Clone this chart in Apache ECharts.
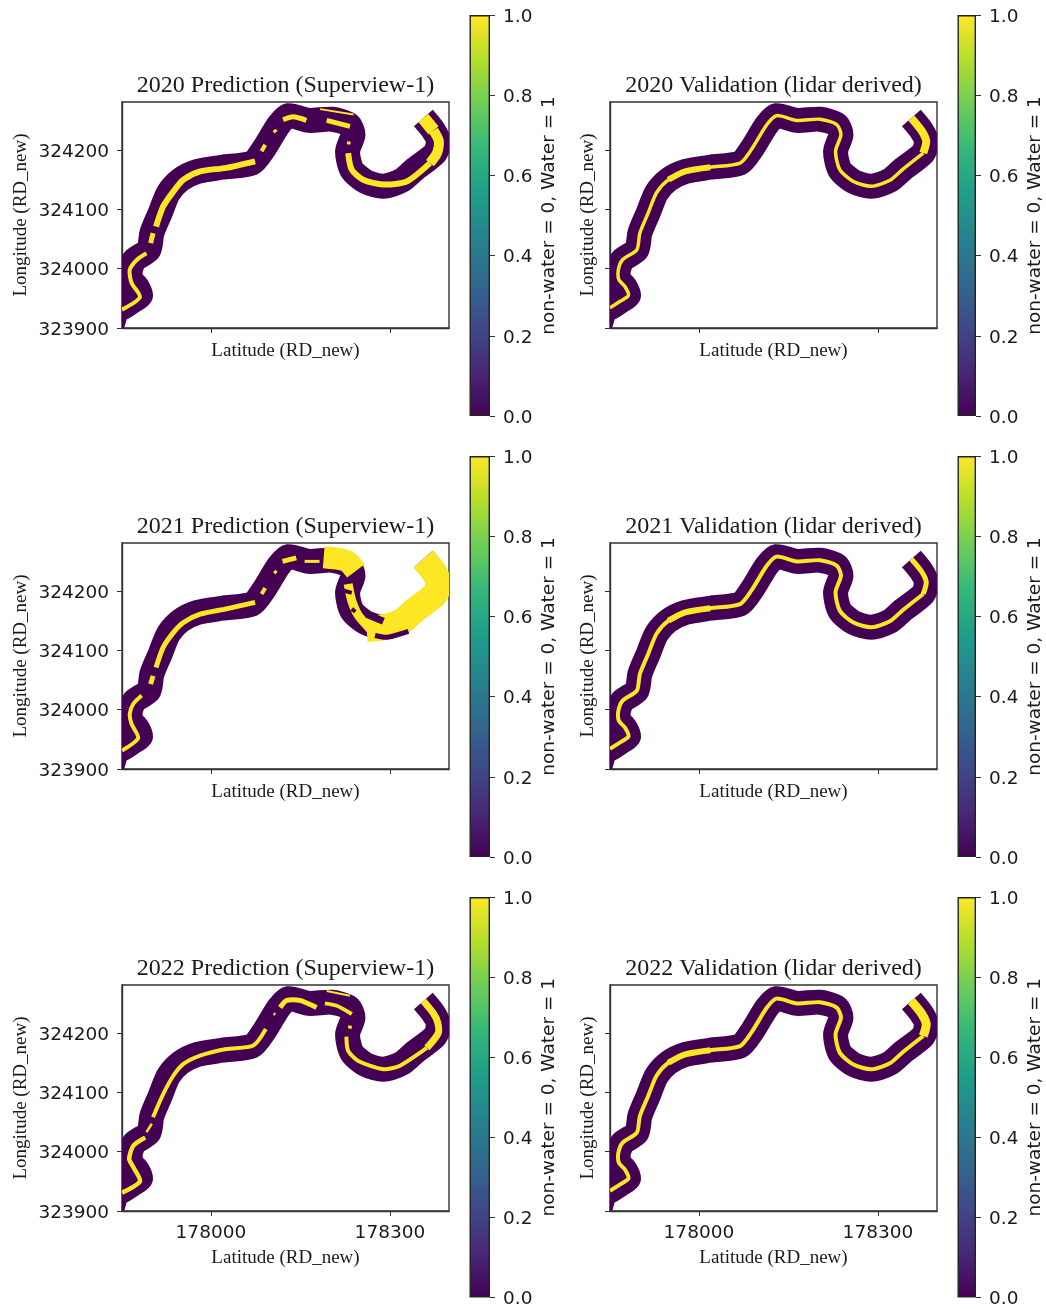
<!DOCTYPE html>
<html><head><meta charset="utf-8">
<style>html,body{margin:0;padding:0;background:#fff}#c{width:1046px;height:1309px}</style>
<script src="https://cdn.jsdelivr.net/npm/echarts@6/dist/echarts.min.js"></script>
</head><body><div id="c"></div>
<script>
// ---------- data (RD_new coordinates) ----------
const latTicks = [178000, 178300];
const lonTicks = [323900, 324000, 324100, 324200];
const barTicks = [0, 0.2, 0.4, 0.6, 0.8, 1];
const titles = ['2020 Prediction (Superview-1)', '2020 Validation (lidar derived)',
  '2021 Prediction (Superview-1)', '2021 Validation (lidar derived)',
  '2022 Prediction (Superview-1)', '2022 Validation (lidar derived)'];
const viridis = ['#440154','#482878','#3e4989','#31688e','#26828e','#1f9e89','#35b779','#6ece58','#b5de2b','#fde725'];

const riverBuffer = [[177833,323900],[177843,323931],[177851,323934],[177868,323945],[177882,323955],[177876,323970],[177866,323981],[177865,323998],[177872,324015],[177896,324032],[177901,324060],[177915,324094],[177929,324128],[177949,324150],[177977,324164],[178019,324171],[178069,324178],[178088,324201],[178114,324243],[178130,324258],[178164,324250],[178203,324252],[178231,324243],[178238,324226],[178229,324198],[178236,324167],[178259,324147],[178289,324139],[178320,324149],[178342,324168],[178376,324195],[178381,324215],[178373,324233],[178356,324254]];
const bufferFill = [[177845,323945],[177850,323985]];

const valMain = [[177851,323934],[177868,323945],[177882,323955],[177876,323970],[177866,323981],[177865,323998],[177872,324015],[177896,324032],[177901,324060],[177915,324094],[177929,324128],[177949,324150],[177977,324164],[178019,324171],[178069,324178],[178088,324201],[178114,324243],[178130,324258],[178164,324250],[178203,324252],[178231,324243],[178238,324226],[178229,324198],[178236,324167],[178259,324147],[178289,324139],[178320,324149],[178342,324168],[178376,324195]];
const valWide = [[177949,324150],[177977,324164],[178019,324171]];
const valEnd = [[178376,324195],[178381,324215],[178373,324233],[178356,324254]];

const p20a = [[177851,323931],[177881,323952],[177867,323976],[177864,323998],[177876,324015],[177892,324026]];
const p20b = [[177899,324043],[177903,324060]];
const p20c = [[177908,324071],[177920,324105],[177937,324130],[177954,324150],[177982,324164],[178026,324170],[178074,324181]];
const p20d = [[178085,324198],[178091,324209]];
const p20e = [[178105,324230],[178110,324234]];
const p20f = [[178121,324251],[178138,324256],[178160,324250]];
const p20g = [[178194,324250],[178233,324240]];
const p20h = [[178183,324269],[178239,324260]];
const p20i = [[178228,324212],[178234,324212]];
const p20j = [[178230,324195],[178236,324167],[178255,324150],[178289,324142],[178328,324147],[178367,324178]];
const p20k = [[178367,324178],[178379,324195],[178382,324215],[178373,324233]];
const p20l = [[178373,324233],[178356,324254]];

const p21a = [[177851,323931],[177878,323952],[177867,323976],[177864,323993],[177870,324010],[177884,324024]];
const p21b = [[177899,324043],[177903,324057]];
const p21c = [[177908,324071],[177920,324105],[177937,324130],[177954,324147],[177982,324161],[178026,324170],[178074,324181]];
const p21d = [[178085,324195],[178091,324205]];
const p21e = [[178106,324230],[178110,324234]];
const p21f = [[178120,324250],[178143,324256]];
const p21g = [[178157,324250],[178182,324250]];
const p21h = [[178189,324257],[178227,324251],[178243,324234]];
const p21i = [[178230,324212],[178236,324184],[178247,324159],[178267,324136]];
const p21j = [[178261,324136],[178289,324139],[178320,324149],[178342,324168],[178376,324195],[178381,324215],[178373,324233],[178356,324254]];
const p21Dark1 = [[178261,324161],[178289,324149]];
const p21Dark2 = [[178275,324125],[178295,324122],[178331,324132]];
const p21Dark3 = [[178240,324226],[178253,324218]];
const p21Dark4 = [[178222,324201],[178236,324197]];
const p21Dark5 = [[178236,324170],[178242,324165]];

const p22a = [[177851,323931],[177881,323950],[177870,323974],[177863,323988],[177870,324010],[177890,324024]];
const p22b = [[177892,324033],[177901,324047]];
const p22c = [[177903,324058],[177920,324097],[177937,324128],[177954,324148],[177982,324162],[178026,324173],[178071,324179],[178092,324207]];
const p22d = [[178105,324230],[178108,324234]];
const p22f = [[178116,324243],[178127,324255],[178149,324255],[178177,324243]];
const p22g = [[178191,324250],[178211,324246],[178236,324232]];
const p22h = [[178194,324271],[178233,324263]];
const p22i = [[178230,324211],[178236,324209]];
const p22j = [[178227,324194],[178230,324170],[178247,324153],[178289,324139],[178317,324145],[178362,324175]];
const p22k = [[178362,324175],[178381,324200],[178380,324218],[178373,324233],[178356,324254]];

// ---------- layers per panel: data, colour key, stroke ----------
const W = '#fde725', D = '#440154';
const layers = [
  [[p20a,W,4],[p20b,W,5],[p20c,W,6],[p20d,W,4],[p20e,W,3],[p20f,W,5],[p20g,W,5],[p20h,W,2],[p20i,W,3],[p20j,W,6],[p20k,W,10],[p20l,W,13]],
  [[valMain,W,3.5],[valWide,W,6],[valEnd,W,8]],
  [[p21a,W,4],[p21b,W,5],[p21c,W,5],[p21d,W,4],[p21e,W,3],[p21f,W,5],[p21g,W,3],[p21h,W,22],[p21i,W,9],[p21j,W,26],[p21Dark1,D,7],[p21Dark2,D,5],[p21Dark3,D,11],[p21Dark4,D,4],[p21Dark5,D,4]],
  [[valMain,W,4],[valWide,W,6],[valEnd,W,5]],
  [[p22a,W,4.5],[p22b,W,2.5],[p22c,W,4],[p22d,W,2],[p22f,W,5],[p22g,W,4],[p22h,W,2],[p22i,W,3],[p22j,W,4],[p22k,W,7]],
  [[valMain,W,4],[valWide,W,6],[valEnd,W,9]]
];

// ---------- layout ----------
const colX = [122, 610], plotW = 327;
const rowY = [102, 543, 985], plotH = 226;
const barY = [15, 456, 897], barH = 401, barX = [469.5, 957.5], barW = 20.5;
const serif = '"Liberation Serif", serif', sans = '"DejaVu Sans", sans-serif';
const ink = '#1a1a1a';

function ribbon(data, color, width, g) {
  return {type: 'custom', xAxisIndex: g, yAxisIndex: g, silent: true, clip: true, animation: false,
    data: data, encode: {x: 0, y: 1},
    renderItem: (params, api) => params.dataIndex !== 0 ? null : {
      type: 'polyline', silent: true,
      shape: {points: data.map(p => api.coord(p)), smooth: 0.25},
      style: {fill: null, stroke: color, lineWidth: width, lineCap: 'butt', lineJoin: 'round'}
    }};
}

const grid = [], xAxis = [], yAxis = [], series = [], title = [];
for (let i = 0; i < 6; i++) {
  const col = i % 2, row = Math.floor(i / 2), g = grid.length;
  grid.push({left: colX[col], top: rowY[row], width: plotW, height: plotH, show: true,
    borderColor: '#333', borderWidth: 1.4, backgroundColor: '#fff', containLabel: false});
  title.push({text: titles[i], left: colX[col] + plotW / 2, top: rowY[row] - 28, textAlign: 'center', padding: 0,
    textStyle: {fontFamily: serif, fontSize: 24, fontWeight: 'normal', color: ink}});
  xAxis.push({type: 'value', gridIndex: g, min: 177851, max: 178399, splitLine: {show: false},
    name: 'Latitude (RD_new)', nameLocation: 'middle', nameGap: row === 2 ? 38 : 14,
    nameTextStyle: {fontFamily: serif, fontSize: 19, color: ink},
    axisLine: {show: true, onZero: false, lineStyle: {color: '#333', width: 1.4}},
    axisTick: {show: true, length: 5, customValues: latTicks, lineStyle: {color: '#333'}},
    axisLabel: {show: row === 2, customValues: latTicks, formatter: v => String(v), margin: 13,
      fontFamily: sans, fontSize: 18.5, color: ink}});
  yAxis.push({type: 'value', gridIndex: g, min: 323900, max: 324281, splitLine: {show: false},
    name: 'Longitude (RD_new)', nameLocation: 'middle', nameRotate: 90, nameGap: col === 0 ? 91 : 12,
    nameTextStyle: {fontFamily: serif, fontSize: 19, color: ink},
    axisLine: {show: true, onZero: false, lineStyle: {color: '#333', width: 1.4}},
    axisTick: {show: true, length: 5, customValues: lonTicks, lineStyle: {color: '#333'}},
    axisLabel: {show: col === 0, customValues: lonTicks, formatter: v => '{t|' + v + '}', margin: 13,
      rich: {t: {fontFamily: sans, fontSize: 18.5, color: ink, padding: [4, 0, 0, 0]}}}});
  series.push(ribbon(riverBuffer, D, 25, g));
  series.push(ribbon(bufferFill, D, 14, g));
  layers[i].forEach(l => series.push(ribbon(l[0], l[1], l[2], g)));

  // colour bar
  const b = grid.length;
  grid.push({left: barX[col], top: barY[row], width: barW, height: barH, show: false});
  xAxis.push({type: 'category', gridIndex: b, data: [''], show: false});
  yAxis.push({type: 'value', gridIndex: b, position: 'right', min: 0, max: 1, interval: 0.2, splitLine: {show: false},
    name: 'non-water = 0, Water = 1', nameLocation: 'middle', nameRotate: 90, nameGap: 50,
    nameTextStyle: {fontFamily: sans, fontSize: 18.5, color: ink},
    axisLine: {show: false},
    axisTick: {show: true, length: 5, lineStyle: {color: '#333'}},
    axisLabel: {show: true, margin: 13, formatter: v => '{t|' + v.toFixed(1) + '}',
      rich: {t: {fontFamily: sans, fontSize: 18.5, color: ink, padding: [4, 0, 0, 0]}}}});
  series.push({type: 'bar', xAxisIndex: b, yAxisIndex: b, barWidth: '100%', silent: true, animation: false, data: [barTicks[barTicks.length - 1]],
    itemStyle: {borderColor: '#222', borderWidth: 1.4,
      color: new echarts.graphic.LinearGradient(0, 1, 0, 0, viridis.map((c, k) => ({offset: k / (viridis.length - 1), color: c})))}});
}
const chart = echarts.init(document.getElementById('c'), null, {renderer: 'canvas', width: 1046, height: 1309});
chart.setOption({animation: false, backgroundColor: '#fff', tooltip: {show: false}, title, grid, xAxis, yAxis, series});
</script></body></html>
